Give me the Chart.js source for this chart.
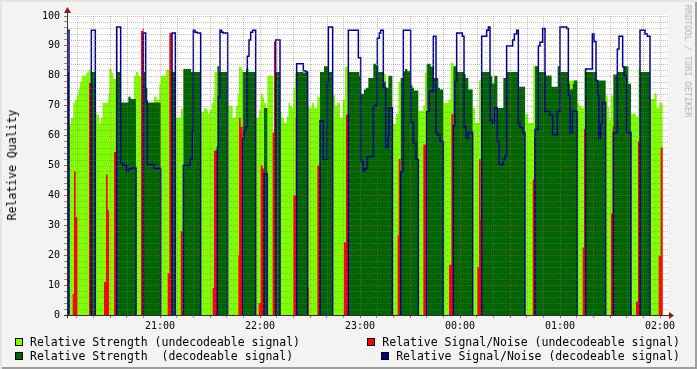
<!DOCTYPE html>
<html><head><meta charset="utf-8">
<script src="https://cdn.jsdelivr.net/npm/chart.js@4.4.1/dist/chart.umd.min.js"></script>
<style>
html,body{margin:0;padding:0;background:#f3f3f3;}
#wrap{position:relative;width:697px;height:369px;background:#f3f3f3;overflow:hidden;
  box-shadow:inset 2px 2px 0 #e4e4e4, inset -2px -2px 0 #9e9e9e;
  font-family:"DejaVu Sans Mono",monospace;color:#000;}
#box{position:absolute;left:0;top:0;width:697px;height:369px;}
.t{position:absolute;white-space:pre;font-size:11.5px;line-height:12px;}
.sw{display:inline-block;width:8px;height:8px;box-sizing:border-box;border:1px solid #000;vertical-align:middle;margin-right:7px;position:relative;top:-1px;}
#ytitle{position:absolute;left:12px;top:165px;transform:translate(-50%,-50%) rotate(-90deg);white-space:pre;font-size:11.5px;}
#credit{position:absolute;left:688px;top:61px;transform:translate(-50%,-50%) rotate(90deg);white-space:pre;font-size:8.5px;color:#b4b4b4;}
</style></head>
<body><div id="wrap">
<div id="box"><canvas id="c"></canvas></div>
<div id="ytitle">Relative Quality</div>
<div id="credit">RRDTOOL / TOBI OETIKER</div>
<div class="t" style="left:15px;top:336px"><span class="sw" style="background:#80ff00"></span>Relative Strength (undecodeable signal)</div>
<div class="t" style="left:15px;top:350px"><span class="sw" style="background:#006400"></span>Relative Strength  (decodeable signal)</div>
<div class="t" style="right:17px;top:336px"><span class="sw" style="background:#ff0000"></span>Relative Signal/Noise (undecodeable signal)</div>
<div class="t" style="right:17px;top:350px"><span class="sw" style="background:#000090"></span>Relative Signal/Noise (decodeable signal)</div>
</div>
<script>
// time axis: minutes after 20:00
const START_MIN = 4.2, END_MIN = 364.2;
const HOUR_TICKS = [60, 120, 180, 240, 300, 360];
const HOUR_LABELS = ['21:00', '22:00', '23:00', '00:00', '01:00', '02:00'];

// [minute, value] steps: value holds until next entry
const strengthUndec = [[4.2,0],[5.4,64],[6.6,66],[8.0,71],[9.0,72],[10.0,73.5],[11.0,75.5],[12.0,78],[13.0,80],[15.6,81],[17.0,82],[18.8,0],
[21.0,68],[22.0,67],[23.4,64],[24.4,66],[25.6,71],[29.0,74],[29.6,82.3],[31.0,81],[32.0,79],[34.0,0],
[44.4,80],[45.6,81.3],[47.0,80],[50.0,0],
[56.4,73],[58.0,72],[59.6,77],[60.4,80],[63.6,82],[67.0,0],
[69.4,66],[72.6,69],[74.0,0],
[84.4,68],[86.4,69.2],[87.6,68.7],[89.0,67.3],[90.0,68.7],[91.0,71],[92.0,73],[92.6,81.3],[94.4,0],
[101.0,70],[103.6,66],[105.6,70],[106.6,74],[107.4,83],[109.0,82],[109.6,0],
[117.4,66],[119.4,68.7],[120.4,74],[121.6,73],[122.4,71],[123.6,69],[124.4,80],[128.0,0],
[132.0,68],[133.0,66],[134.4,64.2],[136.0,66.4],[137.0,71],[138.0,70],[139.0,69.2],[140.0,76],[141.0,81],[142.0,0],
[148.6,70],[149.6,69.2],[151.0,71],[152.4,69.2],[154.4,73],[156.0,0],
[163.6,73.5],[165.0,70],[166.4,71],[168.0,66],[169.6,72],[171.0,83],[173.0,0],
[194.4,80.6],[195.6,0],
[199.4,64],[201.6,67.2],[203.0,78],[204.4,0],
[215.0,68.3],[218.0,70],[219.0,81],[220.0,0],
[230.0,71],[233.0,72],[234.4,84.3],[236.0,0],
[247.6,69.2],[249.0,64.2],[251.4,78.4],[253.0,0],
[279.0,67.2],[281.0,64.2],[284.0,83.4],[285.0,0],
[304.6,78.4],[310.4,71],[311.4,70],[313.0,69.2],[314.4,82.3],[315.4,0],
[327.4,73.4],[328.6,69.6],[329.6,65.3],[330.6,73.4],[332.0,0],
[342.6,67.3],[345.6,66.2],[347.0,82.3],[348.0,0],
[354.0,72.2],[356.6,74.2],[358.0,69.2],[359.6,71.1],[361.6,0],[364.2,0]];

const snrUndec = [[4.2,0],[7.6,7],[8.4,48],[9.4,32.7],[10.4,0],
[17.4,77.6],[19.0,0],
[26.4,11],[27.6,47],[28.6,35],[29.4,0],
[32.4,54.5],[33.6,96.3],[34.4,0],
[48.6,95],[49.6,95.8],[50.2,0],
[64.6,14],[65.6,94.3],[67.2,0],
[72.4,28],[73.6,0],
[91.6,9],[92.4,55],[94.4,0],
[107.0,20],[107.4,66],[108.4,63],[109.6,0],
[119.2,4],[120.4,50],[121.6,49],[122.4,0],
[127.6,61],[128.4,91.5],[129.4,0],
[140.0,40],[141.4,66],[142.4,0],
[148.4,9],[149.2,0],
[154.4,50],[156.0,0],
[170.4,24.3],[171.6,67],[173.0,0],
[202.6,26.6],[203.2,52.2],[204.4,0],
[218.0,57],[219.6,62],[220.4,0],
[233.4,16.8],[234.8,67.2],[236.0,0],
[250.4,16],[251.4,52.2],[252.4,32],[253.0,0],
[283.6,45.3],[284.4,59.2],[285.0,0],
[313.6,22.6],[314.4,62.2],[315.4,0],
[330.6,33.9],[331.6,63.1],[332.4,0],
[345.6,4.5],[346.8,58],[348.0,0],
[359.2,19.8],[360.4,56],[361.6,0],[364.2,0]];

const strengthDec = [[4.2,81.3],[5.4,0],
[18.8,81.3],[21.2,0],
[34.0,81.3],[36.4,71.1],[41.0,73],[42.4,72.2],[45.6,0],
[50.0,81.3],[51.0,76],[52.4,71.1],[60.4,0],
[67.2,81.3],[69.2,0],
[74.0,82.3],[78.6,81.3],[84.4,0],
[94.4,83.2],[95.6,81.3],[100.6,0],
[109.6,81.3],[111.6,82.3],[113.0,81.3],[117.4,0],
[122.4,69.2],[124.4,0],
[129.0,81.3],[132.0,0],
[142.0,81.3],[146.0,81],[148.6,0],
[156.0,81.3],[158.4,83.2],[161.0,81.3],[163.6,0],
[173.0,81.3],[179.6,80],[180.4,74],[182.4,75.4],[183.6,76],[185.0,79.3],[188.0,84],[189.6,83.4],[191.0,81.3],[194.4,78],[195.6,76],[197.0,80],[199.4,0],
[204.4,79.3],[206.0,81.5],[207.0,82.3],[208.4,81.5],[210.0,76.8],[211.4,76],[212.4,75.1],[215.0,0],
[220.0,84],[222.4,83],[224.4,79.3],[227.0,76],[228.0,75.4],[230.0,0],
[236.0,83.2],[238.0,81.3],[242.4,80.5],[243.4,79.3],[245.0,75.4],[247.6,0],
[253.0,81.3],[258.0,80],[259.4,77.4],[260.6,80],[262.4,69.2],[266.0,79.3],[268.0,81.3],[275.0,76.3],[279.0,0],
[285.0,83.2],[287.0,81.3],[291.6,80.1],[295.0,76.3],[298.6,83.2],[300.0,81.3],[305.0,77.3],[306.0,75.4],[307.6,77.3],[308.4,78.4],[310.4,0],
[315.4,81.3],[322.0,78.4],[327.4,0],
[332.0,80.4],[334.4,81.3],[338.4,83.2],[341.0,77.3],[342.6,0],
[348.0,81.3],[354.0,0],[364.2,0]];

// null = no decodeable signal
const snrDec = [[4.2,95.2],[5.4,null],
[18.8,95.2],[21.2,null],
[34.0,96.3],[36.4,50.8],[37.6,50],[40.0,48],[41.0,48.8],[43.0,49.2],[45.6,null],
[50.0,94.3],[51.4,71.5],[52.4,50.3],[56.4,49],[60.4,null],
[67.2,94.3],[69.2,null],
[74.0,50],[78.0,52],[79.4,61.6],[80.0,95.2],[81.0,94.6],[82.4,94.3],[84.4,null],
[94.4,56],[95.0,73],[96.0,95.2],[97.0,94.6],[98.0,94.3],[100.6,null],
[109.6,59],[110.4,61.6],[111.6,63],[112.4,86.5],[113.4,92],[114.4,94.6],[115.6,95.2],[117.4,null],
[122.4,47.2],[124.4,null],
[129.4,92],[132.0,null],
[142.0,84],[146.0,81.7],[147.4,81.3],[148.6,null],
[156.0,65],[158.0,52],[160.4,78],[161.0,96.3],[163.6,null],
[173.0,95.2],[179.0,86],[180.4,51.4],[182.0,48],[183.0,49],[184.4,53],[188.0,69.8],[189.6,70.3],[190.4,92.6],[191.6,94.3],[192.4,95.2],[194.0,76],[195.4,56],[196.8,59.8],[197.4,69.2],[199.4,null],
[204.4,48],[206.0,95.2],[210.4,64.4],[212.0,57.5],[213.6,52],[215.0,null],
[220.0,68],[221.6,74.8],[224.0,93.2],[225.6,61],[226.4,60.2],[228.0,58],[230.0,null],
[236.0,63.3],[237.0,78],[238.0,94.3],[241.4,93.2],[242.4,63],[243.6,59.2],[245.0,61],[247.6,null],
[253.0,93.2],[256.0,95.2],[257.0,96.3],[258.0,65.1],[259.4,64.2],[260.6,69.2],[262.4,58],[263.4,50.3],[266.0,52],[267.0,53.3],[268.0,90],[271.6,92],[272.6,94],[274.0,95.2],[275.0,63.9],[276.0,62.7],[277.6,61],[279.0,null],
[285.0,62],[287.0,90],[288.0,91.2],[289.6,95.8],[291.0,68.1],[294.0,66.8],[295.6,60.3],[298.4,68.1],[300.0,96.3],[304.0,95.8],[305.0,73.5],[306.0,61],[307.4,68.1],[310.4,null],
[315.4,82.3],[319.4,94],[320.4,91.5],[321.6,78.4],[322.6,73.7],[323.4,59.2],[324.4,63.9],[325.4,71.1],[327.4,null],
[332.0,61],[334.4,89],[335.4,93.2],[337.6,83],[338.4,80],[340.0,61],[342.6,null],
[348.0,95.2],[351.0,94],[352.4,93.2],[354.0,null]];

const COLORS = {strengthUndec:'#80ff00', snrUndec:'#ff0000', strengthDec:'#006400', snrDec:'#000090'};
const MAJOR = 'rgba(225,90,90,0.45)', MINOR = 'rgba(120,120,120,0.45)';

function areaPts(pairs){ return pairs.map(([t,v]) => ({x:t, y:v})); }
function linePts(pairs){
  const out = []; let prev = null;
  for (const [t,v] of pairs){
    if (v === null){
      if (prev !== null){ out.push({x:t,y:prev}); out.push({x:t,y:0}); }
      out.push({x:t,y:null});
    } else {
      if (prev === null) out.push({x:t,y:0});
      out.push({x:t,y:v});
    }
    prev = v;
  }
  return out;
}
function area(label, pairs, color, order){
  return {label, data:areaPts(pairs), stepped:true, fill:'origin', backgroundColor:color,
    borderWidth:0, borderColor:'rgba(0,0,0,0)', pointRadius:0, order};
}

// dotted grid drawn over the data (as rrdtool does)
const dottedGrid = {
  id:'dottedGrid',
  afterDatasetsDraw(c){
    const a=c.chartArea, x=c.ctx, sx=c.scales.x, sy=c.scales.y;
    x.save(); x.lineWidth=1; x.setLineDash([1,1]);
    for (const t of sx.ticks){
      const px = Math.round(sx.getPixelForValue(t.value)) + 0.5;
      x.strokeStyle = Math.round(t.value)%30===0 ? MAJOR : MINOR;
      x.beginPath(); x.moveTo(px, a.top); x.lineTo(px, a.bottom); x.stroke();
    }
    for (const t of sy.ticks){
      if (t.value === 0) continue;
      const py = Math.round(sy.getPixelForValue(t.value)) + 0.5;
      x.strokeStyle = Math.round(t.value)%10===0 ? MAJOR : MINOR;
      x.beginPath(); x.moveTo(a.left, py); x.lineTo(a.right+1, py); x.stroke();
    }
    x.restore();
  }
};

const frame = {
  id:'frame',
  beforeDraw(c){ const a=c.chartArea, x=c.ctx; x.save(); x.fillStyle='#fff';
    x.fillRect(a.left, a.top-1, a.right-a.left+1, a.bottom-a.top+1); x.restore(); },
  afterDraw(c){ const a=c.chartArea, x=c.ctx; x.save();
    x.strokeStyle='#303030'; x.lineWidth=1; x.beginPath();
    x.moveTo(a.left+0.5, a.bottom+3); x.lineTo(a.left+0.5, a.top-5);
    x.moveTo(a.left-3, a.bottom+0.5); x.lineTo(a.right+3, a.bottom+0.5); x.stroke();
    x.fillStyle='#8b1a1a';
    x.beginPath(); x.moveTo(a.left-3, a.top-3); x.lineTo(a.left+0.5, a.top-9); x.lineTo(a.left+4, a.top-3); x.closePath(); x.fill();
    x.beginPath(); x.moveTo(a.right+2, a.bottom-3); x.lineTo(a.right+7, a.bottom+0.5); x.lineTo(a.right+2, a.bottom+4); x.closePath(); x.fill();
    x.restore(); }
};

new Chart(document.getElementById('c'), {
  type:'line',
  data:{datasets:[
    {label:'Relative Signal/Noise (decodeable signal)', data:linePts(snrDec), stepped:true, fill:false,
      borderColor:COLORS.snrDec, borderWidth:1.5, pointRadius:0, spanGaps:false, order:0},
    area('Relative Strength  (decodeable signal)', strengthDec, COLORS.strengthDec, 1),
    area('Relative Signal/Noise (undecodeable signal)', snrUndec, COLORS.snrUndec, 2),
    area('Relative Strength (undecodeable signal)', strengthUndec, COLORS.strengthUndec, 3)
  ]},
  options:{
    responsive:true, maintainAspectRatio:false, animation:false, devicePixelRatio:1,
    layout:{padding:{top:16, right:30, bottom:34, left:0}},
    plugins:{legend:{display:false}, tooltip:{enabled:false}},
    elements:{line:{tension:0}},
    scales:{
      x:{type:'linear', min:START_MIN, max:END_MIN,
        afterBuildTicks(s){ const t=[]; for(let m=10;m<=360;m+=10) t.push({value:m}); s.ticks=t; },
        afterFit(s){ s.height = 20; },
        ticks:{autoSkip:false, maxRotation:0, padding:2, color:'#000',
          font:{family:'DejaVu Sans Mono', size:10},
          callback(v){ const i = HOUR_TICKS.indexOf(Math.round(v)); return i>=0 ? HOUR_LABELS[i] : ''; }},
        grid:{drawOnChartArea:false, tickLength:3,
          tickColor(ctx){ return ctx.tick && Math.round(ctx.tick.value)%30===0 ? 'rgba(210,60,60,0.9)' : 'rgba(120,120,120,0.8)'; }},
        border:{display:false}
      },
      y:{type:'linear', min:0, max:100,
        afterBuildTicks(s){ const t=[]; for(let v=0;v<=100;v+=2) t.push({value:v}); s.ticks=t; },
        afterFit(s){ s.width = 67; },
        ticks:{autoSkip:false, padding:4, color:'#000', font:{family:'DejaVu Sans Mono', size:10},
          callback(v){ return Math.round(v)%10===0 ? String(Math.round(v)) : ''; }},
        grid:{drawOnChartArea:false, tickLength:3,
          tickColor(ctx){ return ctx.tick && Math.round(ctx.tick.value)%10===0 ? 'rgba(210,60,60,0.9)' : 'rgba(120,120,120,0.8)'; }},
        border:{display:false}
      }
    }
  },
  plugins:[dottedGrid, frame]
});
</script>
</body></html>
